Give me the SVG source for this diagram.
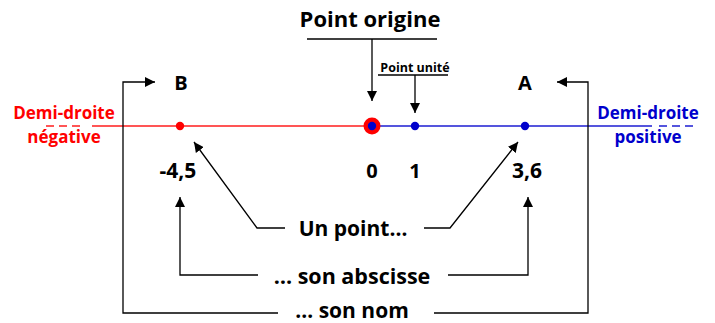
<svg xmlns="http://www.w3.org/2000/svg" width="715" height="323" viewBox="0 0 715 323">
<defs>
<style>
text{font-family:"Open Sans","Liberation Sans",sans-serif;font-weight:bold;text-anchor:middle}
.ln{fill:none;stroke:#000;stroke-width:1.3}
.red{fill:#ff0000}
.blue{fill:#0000cc}
</style>
<marker id="ah" viewBox="0 0 10 10" refX="10" refY="5" markerWidth="10" markerHeight="10" markerUnits="userSpaceOnUse" orient="auto">
<path d="M0,0 L10,5 L0,10 z" fill="#000"/>
</marker>
</defs>
<rect width="715" height="323" fill="#fff"/>
<g id="axis">
<line x1="92" y1="126" x2="372" y2="126" stroke="#ff5555" stroke-width="2"/>
<line x1="46" y1="126" x2="84" y2="126" stroke="#ff5555" stroke-width="2" stroke-dasharray="8,5"/>
<line x1="372" y1="126" x2="652" y2="126" stroke="#5555dd" stroke-width="2"/>
<line x1="659" y1="126" x2="697" y2="126" stroke="#5555dd" stroke-width="2" stroke-dasharray="8,5"/>
</g>
<g id="connectors">
<polyline class="ln" points="307,39 437,39"/>
<line class="ln" x1="372" y1="39" x2="372" y2="101" marker-end="url(#ah)"/>
<polyline class="ln" points="378,75 448,75"/>
<line class="ln" x1="415" y1="75" x2="415" y2="113" marker-end="url(#ah)"/>
<polyline class="ln" points="285,228 257,228 194,142" marker-end="url(#ah)"/>
<polyline class="ln" points="424,228 450,228 518,142" marker-end="url(#ah)"/>
<polyline class="ln" points="258,275 180,275 180,197" marker-end="url(#ah)"/>
<polyline class="ln" points="448,275 528,275 528,197" marker-end="url(#ah)"/>
<polyline class="ln" points="278,313 123,313 123,82 155,82" marker-end="url(#ah)"/>
<polyline class="ln" points="434,313 588,313 588,82 557,82" marker-end="url(#ah)"/>
</g>
<g id="origin">
<circle cx="372" cy="126" r="8.5" fill="#ff0000"/>
<circle cx="372" cy="126" r="4.2" fill="#0000cc"/>
<text x="372" y="178" font-size="20">0</text>
</g>
<g id="unit">
<circle cx="415" cy="126" r="4.2" fill="#0000cc"/>
<text x="415" y="178" font-size="20">1</text>
</g>
<g id="pointB">
<circle cx="180" cy="126" r="4.2" fill="#ff0000"/>
<text x="181" y="90" font-size="20">B</text>
<text x="178" y="178" font-size="21">-4,5</text>
</g>
<g id="pointA">
<circle cx="525" cy="126" r="4.2" fill="#0000cc"/>
<text x="525" y="90" font-size="20">A</text>
<text x="527" y="178" font-size="21">3,6</text>
</g>
<g id="labels">
<text x="370" y="27" font-size="22">Point origine</text>
<text x="415" y="72" font-size="12.5">Point unité</text>
<text x="353" y="236" font-size="21">Un point…</text>
<text x="352" y="284" font-size="21.5">… son abscisse</text>
<text x="352" y="318" font-size="21">… son nom</text>
<text class="red" x="64" y="119" font-size="17">Demi-droite</text>
<text class="red" x="64" y="143" font-size="17">négative</text>
<text class="blue" x="648" y="119" font-size="17">Demi-droite</text>
<text class="blue" x="648" y="143" font-size="17">positive</text>
</g>
</svg>
